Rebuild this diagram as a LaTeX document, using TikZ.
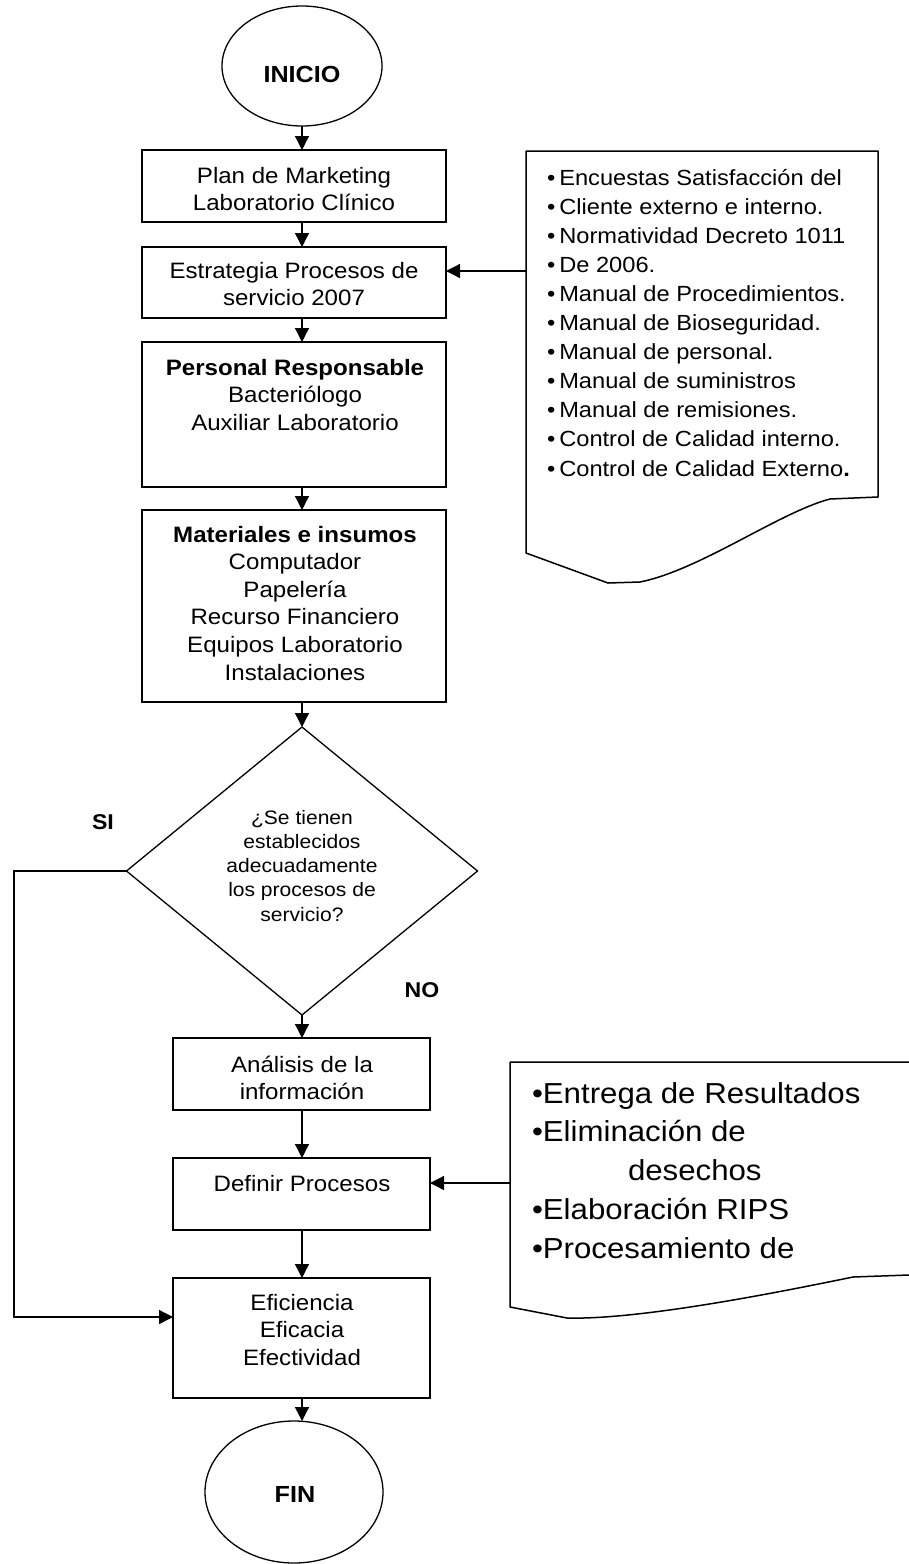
\documentclass[tikz,border=0pt]{standalone}
\usepackage{fontspec}
\setmainfont{Liberation Sans}[FakeStretch=1.08]
\usetikzlibrary{arrows.meta,shapes.geometric}
\newcommand\dotitem{\textbullet\hspace{4pt}}
\newcommand\bigdot{\textbullet}

\begin{document}
\begin{tikzpicture}[x=1pt,y=-1pt,
  every node/.style={inner sep=0pt, outer sep=0pt},
  stepbox/.style={draw, rectangle, line width=1.5pt},
  term/.style={draw, ellipse, line width=1.3pt},
  cond/.style={draw, diamond, line width=1.3pt},
  flow/.style={line width=1.3pt, -{Triangle[length=14pt,width=14pt]}},
  docline/.style={line width=1.5pt, line join=round},
  boxtxt/.style={anchor=base, font=\fontsize{22.3}{27.6}\selectfont},
  termtxt/.style={anchor=base, font=\fontsize{23.3}{28}\selectfont\bfseries},
  condtxt/.style={anchor=base, font=\fontsize{19.5}{24.3}\selectfont},
  lbl/.style={anchor=base, font=\fontsize{21.4}{26}\selectfont\bfseries},
  listA/.style={anchor=base west, font=\fontsize{21.9}{29.1}\selectfont},
  listB/.style={anchor=base west, font=\fontsize{28.9}{38.8}\selectfont},
]
\useasboundingbox (0,0) rectangle (909,1564);

% vertical axis of the main flow
\coordinate (axis) at (302,0);

% ---- terminals ----
\node[term, minimum width=160pt, minimum height=120pt] (ini) at (302,66) {};
\node[termtxt] (initxt) at (302,82) {INICIO};
\node[term, minimum width=178pt, minimum height=142pt] (fin) at (294,1492) {};
\node[termtxt] (fintxt) at (295,1502) {FIN};

% ---- upper process boxes ----
\node[stepbox, minimum width=304pt, minimum height=72pt] (plan) at (294,186) {};
\node[boxtxt] (plantxt) at (294,183) {\parbox[t]{300pt}{\centering Plan de Marketing\\Laboratorio Clínico}};

\node[stepbox, minimum width=304pt, minimum height=71pt] (estr) at (294,282.5) {};
\node[boxtxt] (estrtxt) at (294,278) {\parbox[t]{300pt}{\centering Estrategia Procesos de\\servicio 2007}};

\node[stepbox, minimum width=304pt, minimum height=145pt] (pers) at (294,414.5) {};
\node[boxtxt] (perstxt) at (295,375) {\parbox[t]{300pt}{\centering \textbf{Personal Responsable}\\Bacteriólogo\\Auxiliar Laboratorio}};

\node[stepbox, minimum width=304pt, minimum height=192pt] (mat) at (294,606) {};
\node[boxtxt] (mattxt) at (295,542) {\parbox[t]{300pt}{\centering \textbf{Materiales e insumos}\\Computador\\Papelería\\Recurso Financiero\\Equipos Laboratorio\\Instalaciones}};

% ---- decision ----
\node[cond, minimum width=351pt, minimum height=288pt] (dec) at (302,871) {};
\node[condtxt] (dectxt) at (302,824) {\parbox[t]{200pt}{\centering ¿Se tienen\\establecidos\\adecuadamente\\los procesos de\\servicio?}};
\node[lbl] (si) at (103,829) {SI};
\node[lbl] (no) at (422,997) {NO};

% ---- lower process boxes ----
\node[stepbox, minimum width=257pt, minimum height=72pt] (ana) at (301.5,1074) {};
\node[boxtxt] (anatxt) at (302,1072) {\parbox[t]{250pt}{\centering Análisis de la\\información}};

\node[stepbox, minimum width=257pt, minimum height=72pt] (def) at (301.5,1194) {};
\node[boxtxt] (deftxt) at (302,1191) {Definir Procesos};

\node[stepbox, minimum width=257pt, minimum height=120pt] (efi) at (301.5,1338) {};
\node[boxtxt] (efitxt) at (302,1310) {\parbox[t]{250pt}{\centering Eficiencia\\Eficacia\\Efectividad}};

% ---- document: references and norms ----
\draw[docline] (526,151) -- (878,151) -- (878,497) -- (830,499)
  .. controls (780,512) and (700,570) .. (640,582) -- (608,583) -- (526,553) -- cycle;
\node[listA] (doctxtA) at (547,185) {\parbox[t]{330pt}{\raggedright
  \dotitem Encuestas Satisfacción del\\
  \dotitem Cliente externo e interno.\\
  \dotitem Normatividad Decreto 1011\\
  \dotitem De 2006.\\
  \dotitem Manual de Procedimientos.\\
  \dotitem Manual de Bioseguridad.\\
  \dotitem Manual de personal.\\
  \dotitem Manual de suministros\\
  \dotitem Manual de remisiones.\\
  \dotitem Control de Calidad interno.\\
  \dotitem Control de Calidad Externo\textbf{.}}};
\coordinate (docAin) at (526,271);

% ---- document: processes to define ----
\draw[docline] (909,1062) -- (510,1062) -- (510,1307) -- (567,1318)
  .. controls (640,1320) and (780,1292) .. (853,1277) -- (909,1275);
\node[listB] (doctxtB) at (532,1103) {\parbox[t]{380pt}{\raggedright
  \bigdot Entrega de Resultados\\
  \bigdot Eliminación de\\
  \hspace*{96pt}desechos\\
  \bigdot Elaboración RIPS\\
  \bigdot Procesamiento de}};
\coordinate (docBin) at (510,1183);

% ---- connectors ----
\draw[flow] (ini.south) -- (ini.south |- plan.north);
\draw[flow] (axis |- plan.south) -- (axis |- estr.north);
\draw[flow] (axis |- estr.south) -- (axis |- pers.north);
\draw[flow] (axis |- pers.south) -- (axis |- mat.north);
\draw[flow] (axis |- mat.south) -- (dec.north);
\draw[flow] (dec.south) -- (dec.south |- ana.north);
\draw[flow] (axis |- ana.south) -- (axis |- def.north);
\draw[flow] (axis |- def.south) -- (axis |- efi.north);
\draw[flow] (axis |- efi.south) -- (axis |- fin.north);

\coordinate (sibend) at (14,1317);
\draw[flow] (dec.west) -| (sibend) -- (sibend -| efi.west);

\draw[flow] (docAin) -- (docAin -| estr.east);
\draw[flow] (docBin) -- (docBin -| def.east);
\end{tikzpicture}
\end{document}
